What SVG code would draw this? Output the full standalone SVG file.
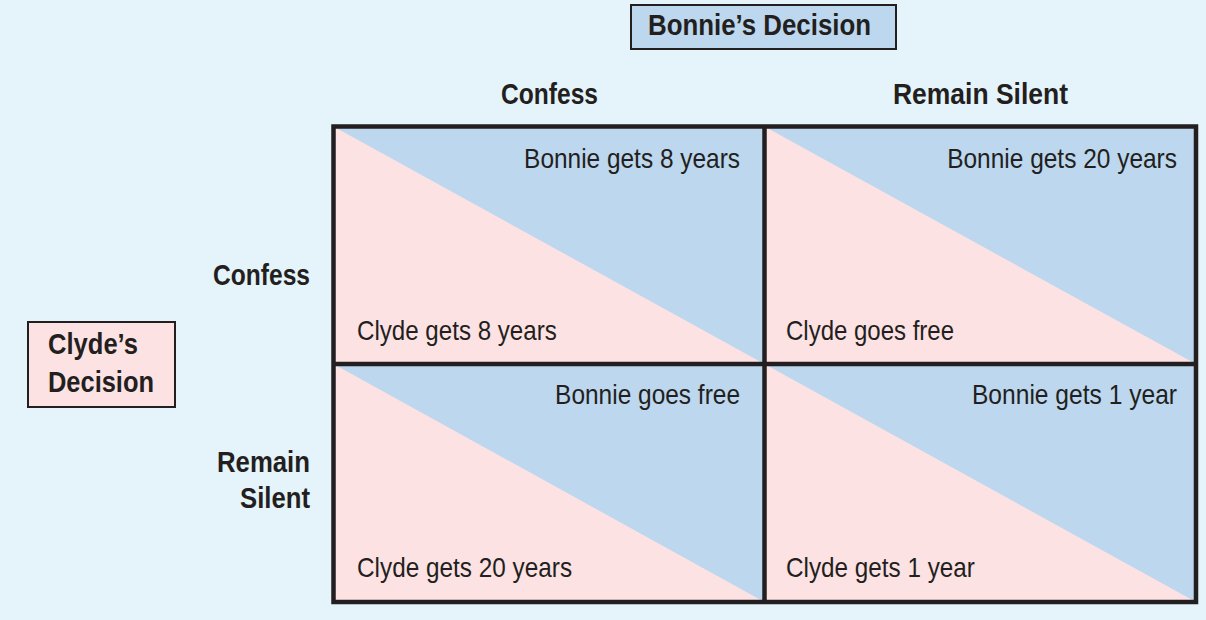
<svg xmlns="http://www.w3.org/2000/svg" width="1206" height="620" viewBox="0 0 1206 620">
  <style>
    .bg { fill: #E5F3FA; }
    .pink { fill: #FDE2E4; }
    .blue { fill: #BCD7EE; }
    .box { stroke: #231F20; stroke-width: 2; }
    .grid { fill: none; stroke: #231F20; stroke-width: 4.5; }
    .bold { font-family: "Liberation Sans", Arial, sans-serif; font-weight: bold; font-size: 29.5px; fill: #231F20; }
    .reg { font-family: "Liberation Sans", Arial, sans-serif; font-size: 28.5px; fill: #231F20; }
    .end { text-anchor: end; }
  </style>
  <rect class="bg" x="0" y="0" width="1206" height="620"/>

  <g id="bonnie-decision">
    <rect class="blue box" x="631" y="5" width="265" height="44"/>
    <text class="bold" x="648" y="35" textLength="223" lengthAdjust="spacingAndGlyphs">Bonnie’s Decision</text>
  </g>

  <g id="clyde-decision">
    <rect class="pink box" x="28" y="322" width="147" height="85"/>
    <text class="bold" x="48" y="354" textLength="90" lengthAdjust="spacingAndGlyphs">Clyde’s</text>
    <text class="bold" x="48" y="391.5" textLength="106" lengthAdjust="spacingAndGlyphs">Decision</text>
  </g>

  <g id="col-headers">
    <text class="bold" x="501" y="104" textLength="97" lengthAdjust="spacingAndGlyphs">Confess</text>
    <text class="bold" x="893" y="104" textLength="175" lengthAdjust="spacingAndGlyphs">Remain Silent</text>
  </g>

  <g id="row-headers">
    <text class="bold end" x="310" y="285" textLength="97" lengthAdjust="spacingAndGlyphs">Confess</text>
    <text class="bold end" x="310" y="472" textLength="93" lengthAdjust="spacingAndGlyphs">Remain</text>
    <text class="bold end" x="310" y="508" textLength="70" lengthAdjust="spacingAndGlyphs">Silent</text>
  </g>

  <g id="cell-confess-confess">
    <rect class="pink" x="333.5" y="126.5" width="431" height="237.5"/>
    <polygon class="blue" points="333.5,126.5 764.5,126.5 764.5,364"/>
    <text class="reg end" transform="translate(740 168) scale(0.8575 1)">Bonnie gets 8 years</text>
    <text class="reg" transform="translate(357 340) scale(0.847 1)">Clyde gets 8 years</text>
  </g>

  <g id="cell-confess-silent">
    <rect class="pink" x="764.5" y="126.5" width="431.5" height="237.5"/>
    <polygon class="blue" points="764.5,126.5 1196,126.5 1196,364"/>
    <text class="reg end" transform="translate(1177 168) scale(0.859 1)">Bonnie gets 20 years</text>
    <text class="reg" transform="translate(786 340) scale(0.842 1)">Clyde goes free</text>
  </g>

  <g id="cell-silent-confess">
    <rect class="pink" x="333.5" y="364" width="431" height="238"/>
    <polygon class="blue" points="333.5,364 764.5,364 764.5,602"/>
    <text class="reg end" transform="translate(740 404) scale(0.8585 1)">Bonnie goes free</text>
    <text class="reg" transform="translate(357 577) scale(0.854 1)">Clyde gets 20 years</text>
  </g>

  <g id="cell-silent-silent">
    <rect class="pink" x="764.5" y="364" width="431.5" height="238"/>
    <polygon class="blue" points="764.5,364 1196,364 1196,602"/>
    <text class="reg end" transform="translate(1177 404) scale(0.863 1)">Bonnie gets 1 year</text>
    <text class="reg" transform="translate(786 577) scale(0.852 1)">Clyde gets 1 year</text>
  </g>

  <g id="connectors">
    <rect class="grid" x="333.5" y="126.5" width="862.5" height="475.5"/>
    <line class="grid" x1="764.5" y1="126.5" x2="764.5" y2="602"/>
    <line class="grid" x1="333.5" y1="364" x2="1196" y2="364"/>
  </g>
</svg>
